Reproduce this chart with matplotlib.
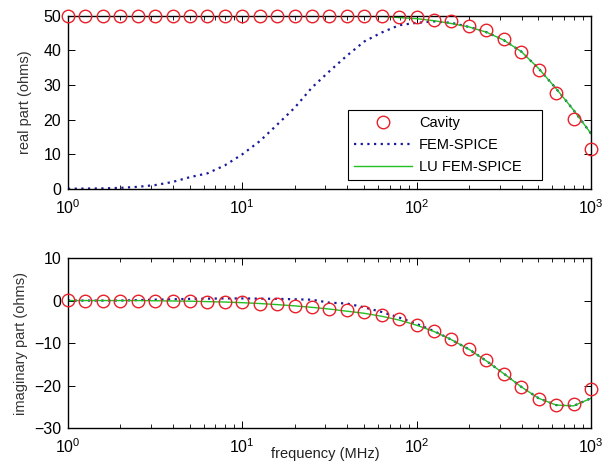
import matplotlib
matplotlib.use("Agg")
import matplotlib.pyplot as plt
from matplotlib.ticker import LogLocator, NullFormatter

plt.rcParams['font.family'] = ['Liberation Sans', 'DejaVu Sans']
plt.rcParams['mathtext.default'] = 'regular'

freq = [1, 1.26, 1.58, 2.0, 2.51, 3.16, 3.98, 5.01, 6.31, 7.94, 10, 12.6, 15.8, 20, 25.1,
        31.6, 39.8, 50.1, 63.1, 79.4, 100, 126, 158, 200, 251, 316, 398, 501, 631, 794, 1000]

cavity_real = [50, 50, 50, 50, 50, 50, 50, 50, 50, 50, 50, 50, 50, 50, 50,
               50, 50, 50, 50, 49.8, 49.8, 48.8, 48.4, 47.1, 45.8, 43.3, 39.7, 34.4, 27.8, 20.1, 11.4]
fem_real = [0.05, 0.1, 0.15, 0.3, 0.6, 1.1, 2.0, 3.4, 4.5, 6.8, 10, 13.8, 18.5, 23.5, 29.3,
            34, 38.5, 42.6, 45.2, 47.3, 48, 48.4, 48, 46.8, 45.3, 43, 39.7, 34.8, 29, 22.8, 16]
lu_freq = [50.1, 63.1, 79.4, 100, 126, 158, 200, 251, 316, 398, 501, 631, 794, 1000]
lu_real = [50, 49.9, 49.5, 49.2, 48.6, 47.8, 46.8, 45.3, 43, 39.7, 34.8, 29, 22.8, 16]

cavity_imag = [0.2, -0.1, -0.1, 0, 0, 0, 0, 0, -0.3, -0.3, -0.3, -0.7, -0.9, -1.3, -1.6,
               -1.9, -2.3, -2.7, -3.4, -4.4, -5.8, -7.2, -9.1, -11.5, -14, -17.3, -20.4, -23.2, -24.5, -24.3, -20.8]
fem_imag = [0, 0, 0, 0, 0.1, 0.2, 0.3, 0.4, 0.45, 0.5, 0.5, 0.45, 0.4, 0.3, 0.2,
            -0.5, -0.7, -1.6, -2.7, -4.0, -5.5, -7.2, -9.2, -11.5, -14.2, -17.2, -20.3, -23.0, -24.6, -24.8, -23.0]
lu_imag = [0, 0, 0, 0, 0, -0.05, -0.1, -0.15, -0.25, -0.35, -0.5, -0.7, -0.95, -1.25, -1.6,
           -2.0, -2.5, -3.0, -3.7, -4.6, -5.8, -7.3, -9.2, -11.5, -14.2, -17.2, -20.3, -23.0, -24.6, -24.8, -23.0]

labels = ['Cavity', 'FEM-SPICE', 'LU FEM-SPICE']
red = '#e8202a'
blue = '#1a1a9a'
green = '#22c022'

fig = plt.figure(figsize=(6.14, 4.63), dpi=100)
ax1 = fig.add_axes([0.1107, 0.592, 0.8518, 0.3737])
ax2 = fig.add_axes([0.1107, 0.0756, 0.8518, 0.367])


def style(ax, yticks, ylim):
    ax.set_xscale('log')
    ax.set_xlim(1, 1000)
    ax.set_ylim(*ylim)
    ax.set_yticks(yticks)
    ax.xaxis.set_major_locator(LogLocator(base=10, numticks=10))
    ax.xaxis.set_minor_locator(LogLocator(base=10, subs=range(2, 10), numticks=10))
    ax.xaxis.set_minor_formatter(NullFormatter())
    ax.tick_params(which='both', direction='in', top=True, right=True, labelsize=11.5, colors='black')
    ax.tick_params(which='major', length=5, width=0.7)
    ax.tick_params(which='minor', length=3, width=0.6)
    ax.tick_params(axis='x', pad=7)
    ax.tick_params(axis='y', pad=5)
    for s in ax.spines.values():
        s.set_linewidth(1.0)
        s.set_color('black')


ax1.plot(freq, cavity_real, 'o', mfc='none', mec=red, ms=9, mew=1.0, label=labels[0], clip_on=False, zorder=4)
ax1.plot(freq, fem_real, linestyle=(0, (1, 2)), color=blue, lw=1.6, label=labels[1])
ax1.plot(lu_freq, lu_real, '-', color=green, lw=1.0, label=labels[2])
style(ax1, [0, 10, 20, 30, 40, 50], (0, 50))
ax1.set_ylabel('real part (ohms)', fontsize=10.5, color='#333333', labelpad=8)
leg = ax1.legend(loc='lower left', bbox_to_anchor=(0.535, 0.052, 0.371, 0.422), mode='expand',
                 fancybox=False, framealpha=1, edgecolor='black', fontsize=10.5,
                 handlelength=4.0, labelspacing=0.55, borderaxespad=0, handletextpad=0.5)
leg.get_frame().set_linewidth(0.8)

ax2.plot(freq, cavity_imag, 'o', mfc='none', mec=red, ms=9, mew=1.0, clip_on=False, zorder=4)
ax2.plot(freq, fem_imag, linestyle=(0, (1, 2)), color=blue, lw=1.6)
ax2.plot(freq, lu_imag, '-', color=green, lw=1.0)
style(ax2, [-30, -20, -10, 0, 10], (-30, 10))
ax2.set_ylabel('imaginary part (ohms)', fontsize=10.5, color='#333333', labelpad=4)
fig.text(0.53, 0.004, 'frequency (MHz)', fontsize=10.5, color='#222222', ha='center', va='bottom')

fig.savefig('out.png', dpi=100)
